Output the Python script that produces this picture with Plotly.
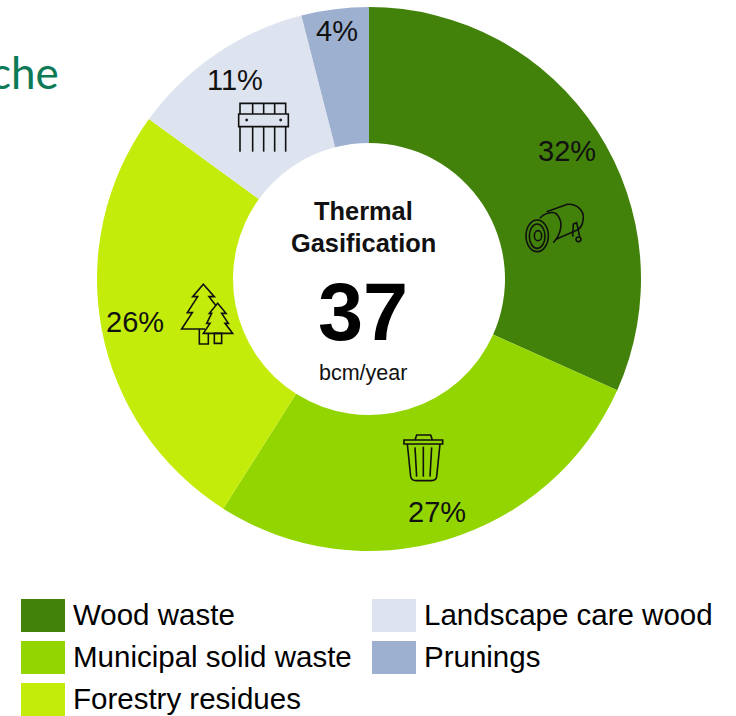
import plotly.graph_objects as go

W, H = 736, 716

categories = ["Wood waste", "Municipal solid waste", "Forestry residues", "Landscape care wood", "Prunings"]
shares = [31.7, 27.3, 26, 11, 4]
colors = ["#42820A", "#93D500", "#C4EC0A", "#DEE4EF", "#9DB0CF"]
pct_pos = [(567, 151), (437, 512), (135, 322), (235, 80), (337, 31)]
legend_pos = [(21, 599), (21, 641), (21, 683), (372, 599), (372, 641)]
center_title = ["Thermal", "Gasification"]
center_value = "37"
center_unit = "bcm/year"
FONT = "Liberation Sans"


def px(x):
    return x / W


def py(y):
    return 1 - y / H


def path(d, ox, oy, s=3.0):
    """Convert a path written in crop pixels to paper coordinates."""
    out, vals = [], []
    for tok in d.split():
        if tok[0].isalpha():
            out.append(tok[0])
            tok = tok[1:]
            if not tok:
                continue
        vals.append(float(tok))
        if len(vals) == 2:
            out.append(f"{px(ox + vals[0] / s):.5f},{py(oy + vals[1] / s):.5f}")
            vals = []
    return " ".join(out)


shapes, annotations = [], []
LW = 1.6


def stroke(d, ox, oy, width=LW, color="#101010"):
    shapes.append(dict(type="path", xref="paper", yref="paper", path=path(d, ox, oy),
                       line=dict(color=color, width=width), layer="above"))


def ring(x0, y0, x1, y1, ox, oy, width=LW, fill=None):
    shapes.append(dict(type="circle", xref="paper", yref="paper",
                       x0=px(ox + x0 / 3), x1=px(ox + x1 / 3),
                       y0=py(oy + y1 / 3), y1=py(oy + y0 / 3),
                       line=dict(color="#101010", width=width),
                       fillcolor=fill or "rgba(0,0,0,0)", layer="above"))


def label(text, x, y, size, bold=False, anchor="center", color="#111111", family=FONT):
    annotations.append(dict(text=f"<b>{text}</b>" if bold else text,
                            x=px(x), y=py(y), xref="paper", yref="paper",
                            xanchor=anchor, yanchor="middle", showarrow=False,
                            font=dict(family=family, size=size, color=color)))


# Log icon
o = (480, 120)
stroke("M200 275 L262 253 C290 250 312 272 310 295 C308 318 298 330 283 334 L228 358", *o)
stroke("M180 295 C190 280 222 270 232 285 C250 305 245 340 220 368", *o)
ring(138, 300, 205, 395, *o)
ring(148, 312, 195, 385, *o)
ring(163, 332, 185, 362, *o)
stroke("M278 350 L280 312 L290 308 L299 350", *o)
ring(288, 351, 303, 365, *o)

# Landscape care icon
o = (170, 60)
stroke("M210 162 L210 130 L347 130 L347 162", *o)
for x in (248, 281, 314):
    stroke(f"M{x} 130 L{x} 162", *o)
stroke("M206 162 L355 162 L355 200 L206 200 Z", *o)
for x in (210, 248, 281, 314, 347):
    stroke(f"M{x} 200 L{x} 275", *o)
for x in (230, 332):
    ring(x - 3, 177, x + 3, 183, *o, width=1, fill="#333333")

# Tree icon
o = (160, 270)
stroke("M135 177 L65 177 L97 128 L82 128 L113 80 L98 80 L130 43 L163 80 L147 80 L167 106", *o)
stroke("M173 100 L198 130 L185 130 L205 160 L195 160 L218 190 L130 190 L150 160 L140 160 L155 130 L148 130 Z", *o)
stroke("M118 177 L118 222 L145 222 L145 190", *o)
stroke("M163 190 L163 220 L185 220 L185 190 Z", *o)

# Bin icon
o = (380, 420)
stroke("M72 60 L188 60 L188 72 L72 72 Z", *o)
stroke("M105 60 L110 45 L152 45 L157 60", *o)
stroke("M82 72 L92 170 Q95 182 108 182 L155 182 Q168 182 170 170 L180 72", *o)
stroke("M105 82 L110 170", *o)
stroke("M130 80 L130 170", *o)
stroke("M155 82 L150 170", *o)

for share, (x, y) in zip(shares, pct_pos):
    label(f"{round(share)}%", x, y, 29)

label(center_title[0], 363, 211, 25.4, bold=True)
label(center_title[1], 363, 243, 25.4, bold=True)
label(center_value, 363, 312, 81, bold=True, color="#000000")
label(center_unit, 363, 373, 21.5)

# Cropped page heading fragment at the left edge
label("che", 61, 72, 44, anchor="right", color="#0B7A55", family="Lato")

for name, color, (x, y) in zip(categories, colors, legend_pos):
    shapes.append(dict(type="rect", xref="paper", yref="paper",
                       x0=px(x), x1=px(x + 44), y0=py(y + 33), y1=py(y),
                       fillcolor=color, line=dict(width=0), layer="above"))
    label(name, x + 50, y + 15, 29.5, anchor="left", color="#000000")

fig = go.Figure(go.Pie(
    labels=categories, values=shares, hole=0.5, sort=False, direction="clockwise",
    rotation=0, textinfo="none", hoverinfo="label+percent",
    marker=dict(colors=colors, line=dict(width=0)),
    domain=dict(x=[97 / W, 641 / W], y=[1 - 551 / H, 1 - 7 / H]),
))
fig.update_layout(width=W, height=H, margin=dict(l=0, r=0, t=0, b=0), showlegend=False,
                  paper_bgcolor="white", shapes=shapes, annotations=annotations)
fig.write_html("out.html", config=dict(displayModeBar=False),
               post_script="document.documentElement.style.overflow='hidden';document.body.style.margin='0';")
